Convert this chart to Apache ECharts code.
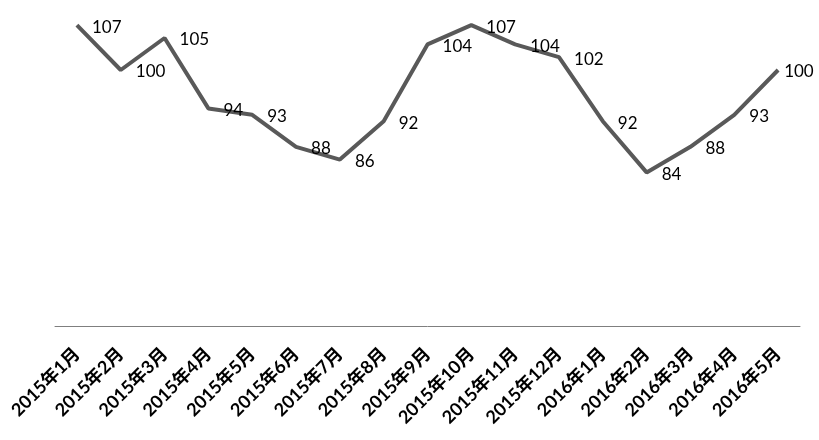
<!DOCTYPE html>
<html><head><meta charset="utf-8">
<script src="https://cdn.jsdelivr.net/npm/echarts@6/dist/echarts.min.js"></script>
<style>html,body{margin:0;padding:0;background:#fff}#c{width:819px;height:440px}</style>
</head><body><div id="c"></div>
<script>
const categories = ['2015年1月','2015年2月','2015年3月','2015年4月','2015年5月','2015年6月','2015年7月','2015年8月','2015年9月','2015年10月','2015年11月','2015年12月','2016年1月','2016年2月','2016年3月','2016年4月','2016年5月'];
const values = [107,100,105,94,93,88,86,92,104,107,104,102,92,84,88,93,100];
const chart = echarts.init(document.getElementById('c'));
const seriesData = values.map((v, i) => i === values.length - 1
  ? {value: v, label: {distance: 6}}
  : v);
chart.setOption({
  animation:false,
  grid:{left:55,right:19,top:6,bottom:114},
  xAxis:{type:'category',data:categories,boundaryGap:true,
    axisLine:{lineStyle:{color:'#7f7f7f',width:1}},axisTick:{show:false},
    axisLabel:{rotate:45,interval:0,margin:25,color:'#000',fontSize:18,fontWeight:'bold',fontFamily:'Lato, "Noto Sans CJK SC"'}},
  yAxis:{type:'value',min:60,max:110,show:false,splitLine:{show:false}},
  series:[{type:'line',data:seriesData,symbol:'circle',symbolSize:0.1,showSymbol:true,
    itemStyle:{color:'#595959'},
    lineStyle:{color:'#595959',width:4},
    label:{show:true,position:'right',distance:15,offset:[0,2],color:'#000',fontSize:17,fontFamily:'Lato, "Noto Sans CJK SC"'}}]
});
</script></body></html>
